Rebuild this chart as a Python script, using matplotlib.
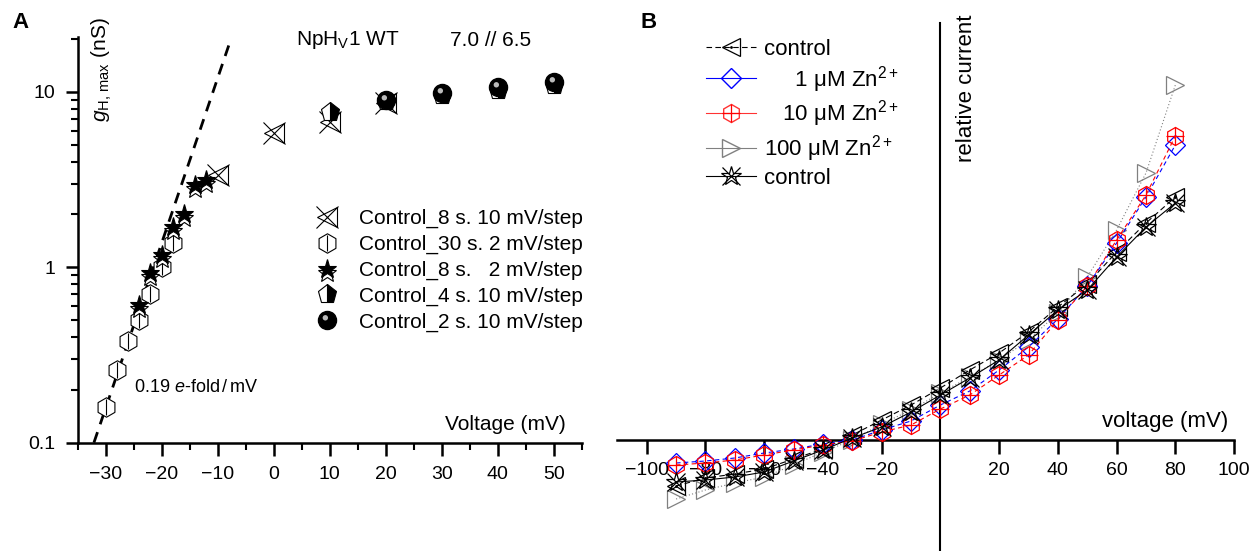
import numpy as np
import matplotlib
matplotlib.use("Agg")
import matplotlib.pyplot as plt
from matplotlib.markers import MarkerStyle
from matplotlib.transforms import Affine2D

plt.rcParams['font.family'] = ['Liberation Sans', 'DejaVu Sans']
plt.rcParams['mathtext.fontset'] = 'custom'
plt.rcParams['mathtext.rm'] = 'Liberation Sans'
plt.rcParams['mathtext.it'] = 'Liberation Sans:italic'

# ---------------- panel A data (g_H,max in nS) ----------------
v_8s10 = [-10, 0, 10, 20]
g_8s10 = [3.35, 5.8, 6.76, 8.6]

v_30s2 = [-30, -28, -26, -24, -22, -20, -18]
g_30s2 = [0.16, 0.26, 0.38, 0.50, 0.70, 1.0, 1.37]

v_8s2 = [-24, -22, -20, -18, -16, -14, -12]
g_8s2 = [0.61, 0.93, 1.17, 1.70, 2.02, 2.94, 3.14]

v_4s10 = [10, 20, 30, 40, 50]
g_4s10 = [7.7, 8.9, 9.6, 10.3, 10.9]

v_2s10 = [20, 30, 40, 50]
g_2s10 = [9.0, 9.8, 10.6, 11.3]

fit_v = [-32.1, -7.7]
fit_g = [0.1, 19.7]

# ---------------- panel B data (relative current) ----------------
volt = [-90, -80, -70, -60, -50, -40, -30, -20, -10, 0, 10, 20, 30, 40, 50, 60, 70, 80]
i_control = [-0.46, -0.38, -0.34, -0.29, -0.19, -0.09, 0.05, 0.20, 0.35, 0.52,
             0.70, 0.87, 1.08, 1.33, 1.56, 1.88, 2.17, 2.43]
i_zn1 = [-0.23, -0.21, -0.18, -0.13, -0.09, -0.04, 0.00, 0.10, 0.19, 0.35,
         0.49, 0.70, 0.93, 1.21, 1.54, 1.97, 2.43, 2.95]
i_zn10 = [-0.25, -0.23, -0.20, -0.15, -0.10, -0.05, -0.01, 0.08, 0.15, 0.31,
          0.45, 0.65, 0.85, 1.20, 1.54, 2.00, 2.45, 3.04]
i_zn100 = [-0.59, -0.50, -0.43, -0.37, -0.25, -0.12, 0.00, 0.16, 0.30, 0.47,
           0.63, 0.80, 1.00, 1.27, 1.63, 2.10, 2.67, 3.55]
i_control2 = [-0.42, -0.40, -0.37, -0.32, -0.21, -0.10, 0.02, 0.13, 0.28, 0.45,
              0.62, 0.80, 1.05, 1.30, 1.50, 1.83, 2.13, 2.37]

fig = plt.figure(figsize=(12.53, 5.51), dpi=100)

# ================= panel A =================
ax = fig.add_axes([0.062, 0.1966, 0.4022, 0.7354])
ax.set_yscale('log')
ax.set_xlim(-35, 55)
ax.set_ylim(0.1, 20.4)
for s in ['top', 'right']:
    ax.spines[s].set_visible(False)
for s in ['left', 'bottom']:
    ax.spines[s].set_linewidth(1.8)
ax.set_xticks(range(-30, 51, 10))
ax.set_xticks(range(-35, 56, 10), minor=True)
ax.set_xticklabels(['\u221230', '\u221220', '\u221210', '0', '10', '20', '30', '40', '50'])
ax.set_yticks([0.1, 1, 10])
ax.set_yticklabels(['0.1', '1', '10'])
ax.tick_params(which='major', length=9, width=1.8, labelsize=14, pad=8)
ax.tick_params(axis='y', which='major', pad=7)
ax.tick_params(which='minor', length=5, width=1.5)

ax.plot(fit_v, fit_g, color='black', lw=2, dashes=(4, 3), zorder=2)

ms = 14
l1a, = ax.plot(v_8s10, g_8s10, ls='none', marker='<', ms=ms, mfc='none', mec='black', mew=0.8, zorder=5)
l1b, = ax.plot(v_8s10, g_8s10, ls='none', marker='x', ms=ms + 2, mec='black', mew=0.8, zorder=5)

l2a, = ax.plot(v_30s2, g_30s2, ls='none', marker='h', ms=ms, mfc='white', mec='black', mew=0.8, zorder=4)
l2b, = ax.plot(v_30s2, g_30s2, ls='none', marker='|', ms=ms - 2, mec='black', mew=0.8, zorder=4)

star_low = MarkerStyle('*', transform=Affine2D().translate(0, -0.22))
l3b, = ax.plot(v_8s2, g_8s2, ls='none', marker=star_low, ms=ms, mfc='white', mec='black', mew=0.8, zorder=6)
l3a, = ax.plot(v_8s2, g_8s2, ls='none', marker='*', ms=ms, mfc='black', mec='black', mew=0.8, zorder=6)

l4, = ax.plot(v_4s10, g_4s10, ls='none', marker='p', ms=ms, fillstyle='right', mfc='black',
              markerfacecoloralt='white', mec='black', mew=0.8, zorder=6)

l5a, = ax.plot(v_2s10, g_2s10, ls='none', marker='o', ms=ms - 1, mfc='black', mec='black', zorder=7)
hl = MarkerStyle('o', transform=Affine2D().scale(0.3).translate(-0.12, 0.15))
l5b, = ax.plot(v_2s10, g_2s10, ls='none', marker=hl, ms=ms - 1, mfc='#bbbbbb', mec='none', zorder=7)

ax.legend([(l1a, l1b), (l2a, l2b), (l3b, l3a), (l4,), (l5a, l5b)],
          ['Control_8 s. 10 mV/step', 'Control_30 s. 2 mV/step',
           'Control_8 s.   2 mV/step', 'Control_4 s. 10 mV/step',
           'Control_2 s. 10 mV/step'],
          loc='upper left', bbox_to_anchor=(0.253, 1 - 209 / 551), bbox_transform=fig.transFigure,
          frameon=False, fontsize=15, handlelength=1.0, handletextpad=1.0,
          labelspacing=0.32, borderpad=0, borderaxespad=0)

fig.text(102 / 1253, 1 - 70 / 551, r'$g_{\mathrm{H,\,max}}$ (nS)', rotation=90,
         ha='center', va='center', fontsize=15)
fig.text(296 / 1253, 1 - 40 / 551, r'NpH$_\mathrm{V}$1 WT', ha='left', va='center', fontsize=15)
fig.text(450 / 1253, 1 - 40 / 551, '7.0 // 6.5', ha='left', va='center', fontsize=15)
fig.text(134 / 1253, 1 - 388 / 551, r'0.19 $e$-fold$\,/\,$mV', ha='left', va='center', fontsize=13)
fig.text(566 / 1253, 1 - 425 / 551, 'Voltage (mV)', ha='right', va='center', fontsize=15)
fig.text(12 / 1253, 1 - 23 / 551, 'A', ha='left', va='center', fontsize=16, fontweight='bold')

# ================= panel B =================
bx = fig.add_axes([0.4927, 0.0, 0.4922, 0.9588])
bx.set_xlim(-110, 100)
bx.set_ylim(-1.11, 4.173)
for s in ['top', 'right']:
    bx.spines[s].set_visible(False)
bx.spines['left'].set_position(('data', 0))
bx.spines['bottom'].set_position(('data', 0))
bx.spines['left'].set_linewidth(1.5)
bx.spines['bottom'].set_linewidth(1.8)
bx.set_yticks([])
bx.set_xticks([-100, -80, -60, -40, -20, 20, 40, 60, 80, 100])
bx.set_xticklabels(['\u2212100', '\u221280', '\u221260', '\u221240', '\u221220',
                    '20', '40', '60', '80', '100'])
bx.tick_params(axis='x', length=10, width=1.8, labelsize=14, pad=6)

mb = 13
c1, = bx.plot(volt, i_control, color='black', lw=0.8, dashes=(5, 3), marker='<', ms=mb,
              mfc='none', mec='black', mew=0.9, zorder=5)
c1d, = bx.plot(volt, i_control, ls='none', marker='.', ms=2, color='black', zorder=5)
z1, = bx.plot(volt, i_zn1, color='blue', lw=0.8, dashes=(4, 3), marker='D', ms=mb - 3,
              mfc='none', mec='blue', mew=0.9, zorder=5)
z10, = bx.plot(volt, i_zn10, color='red', lw=0.8, dashes=(4, 3), marker='h', ms=mb,
               mfc='none', mec='red', mew=0.9, zorder=5)
z10p, = bx.plot(volt, i_zn10, ls='none', marker='+', ms=mb, mec='red', mew=0.9, zorder=5)
z100, = bx.plot(volt, i_zn100, color='gray', lw=0.8, ls=(0, (1, 2)), marker='>', ms=mb,
                mfc='none', mec='gray', mew=0.9, zorder=4)
c2, = bx.plot(volt, i_control2, color='black', lw=0.8, marker='*', ms=mb + 2,
              mfc='none', mec='black', mew=0.9, zorder=6)
c2x, = bx.plot(volt, i_control2, ls='none', marker='x', ms=mb, mec='black', mew=0.9, zorder=6)

h_z1, = bx.plot([], [], color='blue', lw=0.8, marker='D', ms=mb - 3, mfc='none', mec='blue')
h_z10, = bx.plot([], [], color='red', lw=0.8, alpha=0.8, marker='h', ms=mb, mfc='none', mec='red')
h_z100, = bx.plot([], [], color='gray', lw=0.8, marker='>', ms=mb, mfc='none', mec='gray')
bx.legend([(c1, c1d), (h_z1,), (h_z10, z10p), (h_z100,), (c2, c2x)],
          ['control', '     1 \u03bcM Zn$^{2+}$', '   10 \u03bcM Zn$^{2+}$',
           '100 \u03bcM Zn$^{2+}$', 'control'],
          loc='upper left', bbox_to_anchor=(706 / 1253, 1 - 39 / 551), bbox_transform=fig.transFigure,
          frameon=False, fontsize=16, handlelength=2.25, handletextpad=0.37,
          labelspacing=0.17, borderpad=0, borderaxespad=0)

fig.text(966 / 1253, 1 - 88 / 551, 'relative current', rotation=90, ha='center', va='center', fontsize=16)
fig.text(1228 / 1253, 1 - 421 / 551, 'voltage (mV)', ha='right', va='center', fontsize=16)
fig.text(640 / 1253, 1 - 23 / 551, 'B', ha='left', va='center', fontsize=16, fontweight='bold')

fig.savefig('out.png', dpi=100)
